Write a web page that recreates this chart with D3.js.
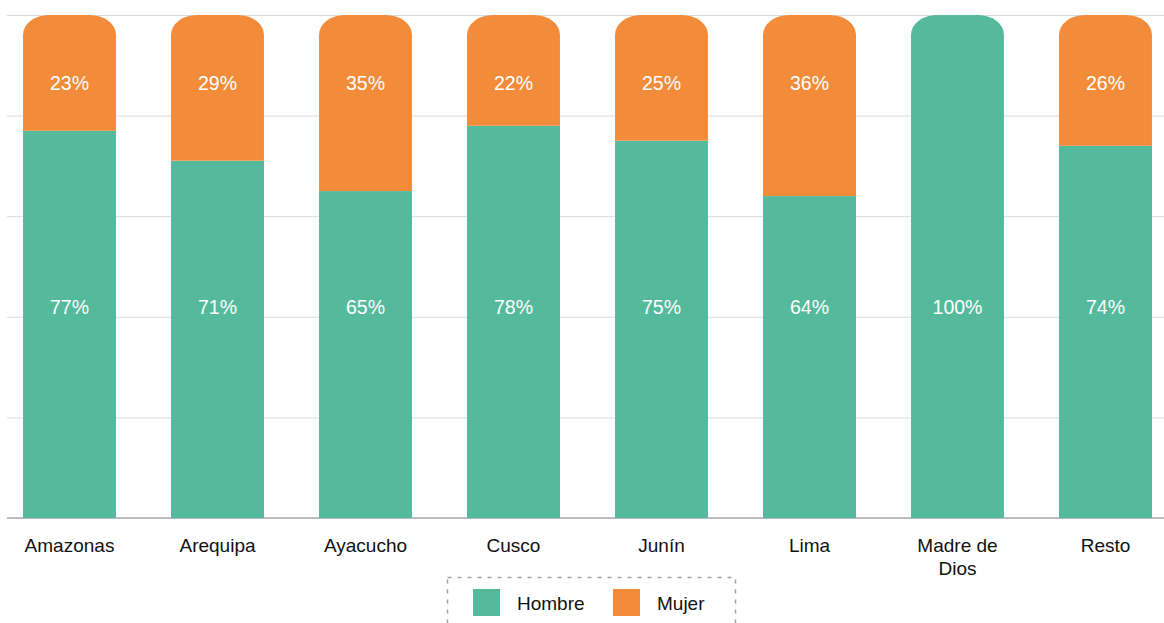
<html><head>
<meta charset="utf-8">
<title>Hombre / Mujer por region</title>
<script src="https://d3js.org/d3.v7.min.js"></script>
<style>
  body { margin: 0; background: #fff; }
  text { font-family: "Liberation Sans", Arial, Helvetica, sans-serif; }
  .gridlines line { stroke: #dcdcdc; }
  .gridlines .domain { stroke: none; }
</style>
</head>
<body>
<svg id="chart" width="1164" height="623"></svg>
<script>
  // data
  const regions = ["Amazonas", "Arequipa", "Ayacucho", "Cusco", "Junín", "Lima", "Madre de Dios", "Resto"];
  const hombre  = [77, 71, 65, 78, 75, 64, 100, 74];
  const mujer   = [23, 29, 35, 22, 25, 36, 0, 26];
  const yTicks  = [0, 20, 40, 60, 80, 100];
  const seriesNames  = ["Hombre", "Mujer"];
  const seriesColors = ["#55ba9b", "#f28c3a"];

  const svg = d3.select('svg#chart');

  const xScale = d3.scaleBand().domain(regions)
                   .range([-4.5, 1179.5])
                   .paddingInner(0.372).paddingOuter(0.186);
  const yScale = d3.scaleLinear().domain([0, 100]).range([518, 15]);

  // gridlines
  let grid = d3.axisLeft(yScale).tickValues(yTicks).tickSize(-1157).tickFormat("");
  svg.append('g')
     .attr('class', 'gridlines')
     .attr('transform', 'translate(7,0)')
     .call(grid);

  // baseline
  svg.append('line')
     .attr('x1', 7).attr('x2', 1164)
     .attr('y1', yScale(0)).attr('y2', yScale(0))
     .attr('stroke', '#a9adb1').attr('stroke-width', 1.5);

  // bar with rounded top corners
  function roundTop(x, y, w, h, rx, ry) {
    return `M${x},${y + h} L${x},${y + ry} A${rx},${ry} 0 0 1 ${x + rx},${y}` +
           ` L${x + w - rx},${y} A${rx},${ry} 0 0 1 ${x + w},${y + ry} L${x + w},${y + h} Z`;
  }

  const bw = xScale.bandwidth();
  regions.forEach((r, i) => {
    const x = xScale(r);
    const h0 = hombre[i], m0 = mujer[i];
    const topIsGreen = m0 === 0;

    // Hombre
    const gy = yScale(h0), gh = yScale(0) - yScale(h0);
    if (topIsGreen) {
      svg.append('path').attr('d', roundTop(x, gy, bw, gh, 26, 20)).attr('fill', seriesColors[0]);
    } else {
      svg.append('rect').attr('x', x).attr('y', gy).attr('width', bw).attr('height', gh)
         .attr('fill', seriesColors[0]);
    }
    // Mujer
    if (m0 > 0) {
      const oy = yScale(h0 + m0), oh = yScale(h0) - yScale(h0 + m0);
      svg.append('path').attr('d', roundTop(x, oy, bw, oh, 26, 20)).attr('fill', seriesColors[1]);
      svg.append('text')
         .attr('x', x + bw / 2).attr('y', yScale(86.5))
         .attr('text-anchor', 'middle').attr('dominant-baseline', 'central')
         .attr('font-size', 19.5).attr('fill', '#fff')
         .text(m0 + '%');
    }
    svg.append('text')
       .attr('x', x + bw / 2).attr('y', yScale(42))
       .attr('text-anchor', 'middle').attr('dominant-baseline', 'central')
       .attr('font-size', 19.5).attr('fill', '#fff')
       .text(h0 + '%');

    // category label (wrap the long name)
    const words = r === "Madre de Dios" ? ["Madre de", "Dios"] : [r];
    words.forEach((w, j) => {
      svg.append('text')
         .attr('x', x + bw / 2).attr('y', 545 + j * 23)
         .attr('text-anchor', 'middle').attr('dominant-baseline', 'central')
         .attr('font-size', 19).attr('fill', '#111')
         .text(w);
    });
  });

  // legend
  svg.append('rect')
     .attr('x', 447.5).attr('y', 577.5).attr('width', 288).attr('height', 60)
     .attr('fill', 'none').attr('stroke', '#a0a0a0').attr('stroke-width', 1.5)
     .attr('stroke-dasharray', '4,6');

  const legendX = [473, 613];
  seriesNames.forEach((s, i) => {
    svg.append('rect')
       .attr('x', legendX[i]).attr('y', 589).attr('width', 27).attr('height', 27)
       .attr('fill', seriesColors[i]);
    svg.append('text')
       .attr('x', legendX[i] + 44).attr('y', 603)
       .attr('dominant-baseline', 'central')
       .attr('font-size', 19).attr('fill', '#111')
       .text(s);
  });
</script>
</body>
</html>
